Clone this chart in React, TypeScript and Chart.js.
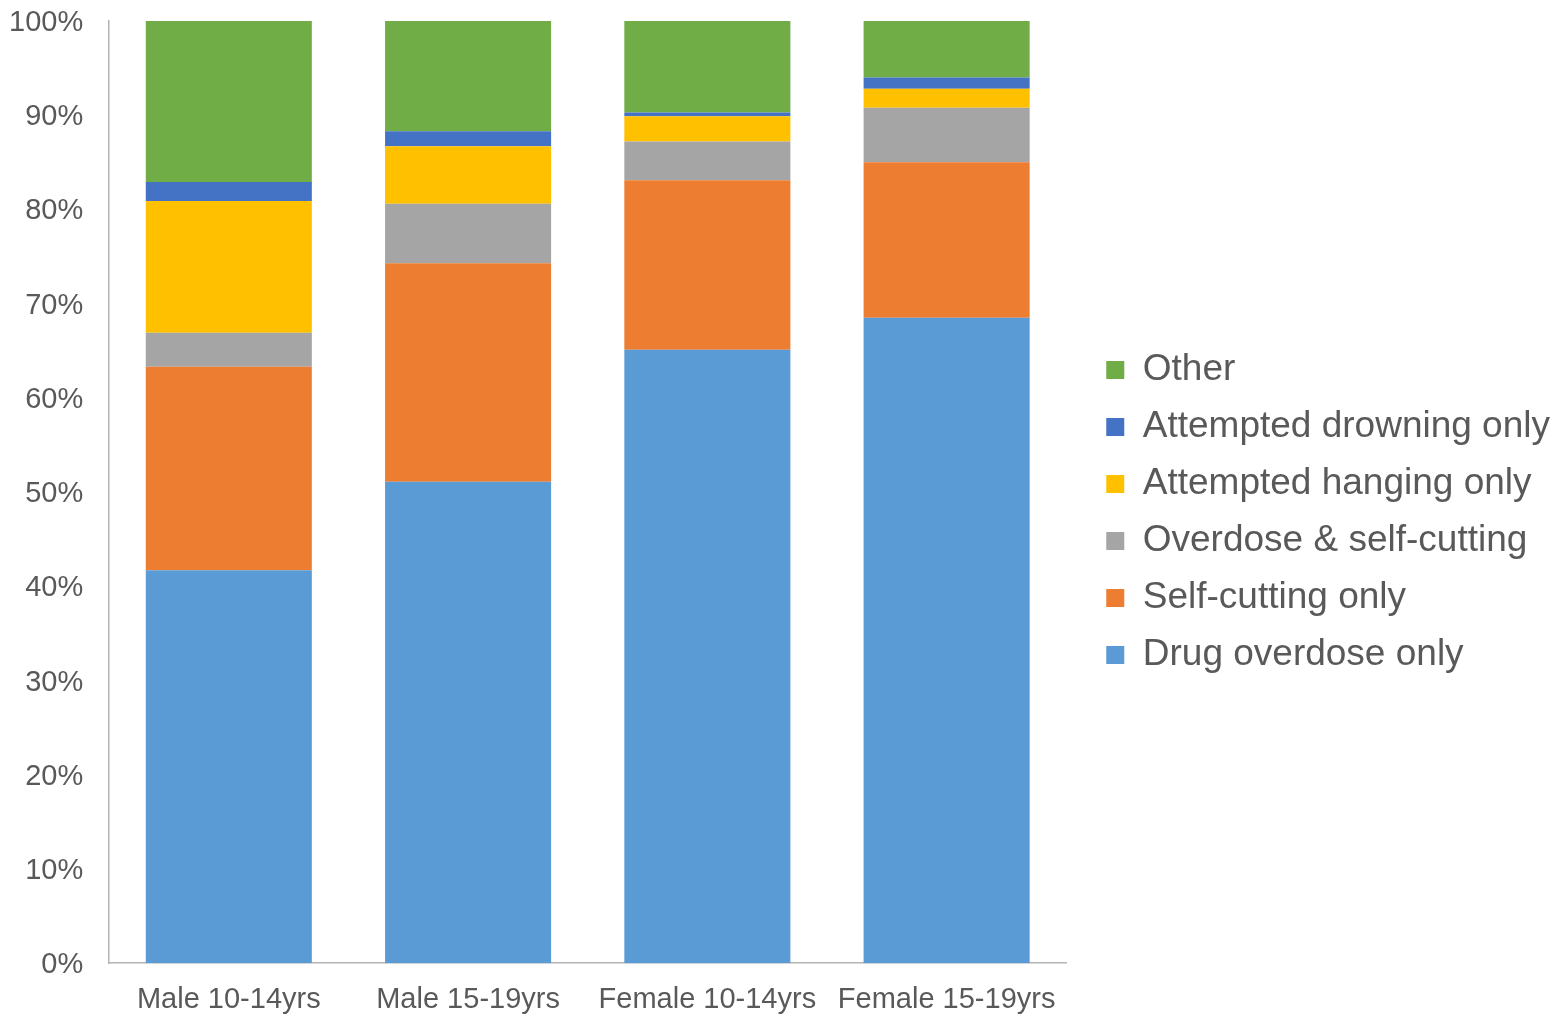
import React, { useEffect, useRef } from "react";
import { Chart, registerables } from "chart.js";

Chart.register(...registerables);

const categories = ["Male 10-14yrs", "Male 15-19yrs", "Female 10-14yrs", "Female 15-19yrs"];
const drugOverdose = [41.7, 51.1, 65.1, 68.5];
const selfCutting = [21.6, 23.2, 18.0, 16.5];
const overdoseAndCutting = [3.6, 6.3, 4.1, 5.8];
const hanging = [14.0, 6.1, 2.7, 2.0];
const drowning = [2.0, 1.6, 0.4, 1.2];
const other = [17.1, 11.7, 9.7, 6.0];

const seriesNames = [
  "Drug overdose only",
  "Self-cutting only",
  "Overdose & self-cutting",
  "Attempted hanging only",
  "Attempted drowning only",
  "Other",
];
const seriesValues = [drugOverdose, selfCutting, overdoseAndCutting, hanging, drowning, other];
const seriesColors = ["#5B9BD5", "#ED7D31", "#A5A5A5", "#FFC000", "#4472C4", "#70AD47"];

const yTicks = [0, 10, 20, 30, 40, 50, 60, 70, 80, 90, 100];

const FONT = "'Liberation Sans', Arial, sans-serif";
const TEXT = "#595959";
const AXIS = "#B4B4B4";

const wideLegend = {
  id: "wideLegend",
  beforeInit(chart: any) {
    const lg = chart.legend;
    if (!lg) return;
    const orig = lg.update.bind(lg);
    lg.update = (maxWidth: number, maxHeight: number, margins: any) => orig(Math.max(maxWidth, 600), maxHeight, margins);
  },
};

export default function App() {
  const ref = useRef<HTMLCanvasElement | null>(null);

  useEffect(() => {
    if (!ref.current) return;
    const chart = new Chart(ref.current, {
      type: "bar",
      data: {
        labels: categories,
        datasets: seriesNames.map((name, i) => ({
          label: name,
          data: seriesValues[i],
          backgroundColor: seriesColors[i],
          borderWidth: 0,
          categoryPercentage: 1,
          barPercentage: 0.694,
          yAxisID: "y",
        })),
      },
      plugins: [wideLegend],
      options: {
        animation: false,
        responsive: false,
        devicePixelRatio: 1,
        layout: { padding: { left: 9, right: 3, top: 9, bottom: 0 } },
        plugins: {
          tooltip: { enabled: false },
          legend: {
            position: "right",
            reverse: true,
            labels: {
              boxWidth: 18,
              boxHeight: 18,
              padding: 20,
              color: TEXT,
              font: { family: FONT, size: 37 },
            },
          },
        },
        scales: {
          x: {
            stacked: true,
            grid: { display: false, drawTicks: false },
            border: { display: true, color: AXIS, width: 1.5 },
            afterFit: (s: any) => {
              s.paddingLeft = 0;
              s.paddingRight = 0;
              s.paddingTop = 0;
              s.paddingBottom = 0;
              s.height = s.height - 20;
            },
            ticks: { color: TEXT, font: { family: FONT, size: 29 }, padding: 19, maxRotation: 0, autoSkip: false },
          },
          y: {
            stacked: true,
            min: 0,
            max: 100,
            grid: { display: false, drawTicks: false },
            border: { display: true, color: AXIS, width: 1.5 },
            afterBuildTicks: (s: any) => {
              s.ticks = yTicks.map((v) => ({ value: v }));
            },
            afterFit: (s: any) => {
              s.paddingTop = 21;
              s.paddingBottom = 0;
              s.width = s.width - 26;
            },
            ticks: {
              color: TEXT,
              font: { family: FONT, size: 29 },
              padding: 26,
              labelOffset: 2,
              callback: (v: any) => v + "%",
            },
          },
          gap: {
            type: "linear",
            position: "right",
            display: true,
            grid: { display: false, drawTicks: false },
            border: { display: false },
            ticks: { display: false },
            afterFit: (s: any) => {
              s.width = 20;
              s.paddingTop = 0;
              s.paddingBottom = 0;
            },
          },
        },
      },
    } as any);
    return () => chart.destroy();
  }, []);

  return (
    <div style={{ position: "absolute", left: 0, top: 0, width: 1563, height: 1016 }}>
      <canvas ref={ref} width={1563} height={1016} style={{ display: "block" }} />
    </div>
  );
}
